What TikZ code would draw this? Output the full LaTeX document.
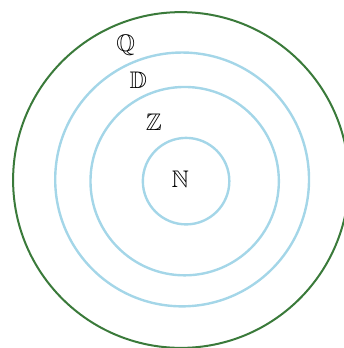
\documentclass[tikz,border=0pt]{standalone}
\usepackage{amssymb}
\definecolor{setgreen}{RGB}{58,122,58}
\definecolor{setblue}{RGB}{164,214,232}
\begin{document}
\begin{tikzpicture}[every node/.style={font=\large}]
        \useasboundingbox (-3.18,-2.952) rectangle (2.864,3.163);
        \draw[setgreen, line width=1pt] (0,0) circle (2.95);
        \draw[setblue, line width=1.2pt] (0.02,0.01) circle (2.23);
        \draw[setblue, line width=1.2pt] (0.065,-0.02) circle (1.655);
        \draw[setblue, line width=1.2pt] (0.09,-0.02) circle (0.76);
        \node (rat) at (-0.972,2.36) {\(\mathbb{Q}\)};
        \node (dec) at (-0.75,1.757) {\(\mathbb{D}\)};
        \node (int) at (-0.474,1.007) {\(\mathbb{Z}\)};
        \node (nat) at (-0.012,0.012) {\(\mathbb{N}\)};
    \end{tikzpicture}
\end{document}
